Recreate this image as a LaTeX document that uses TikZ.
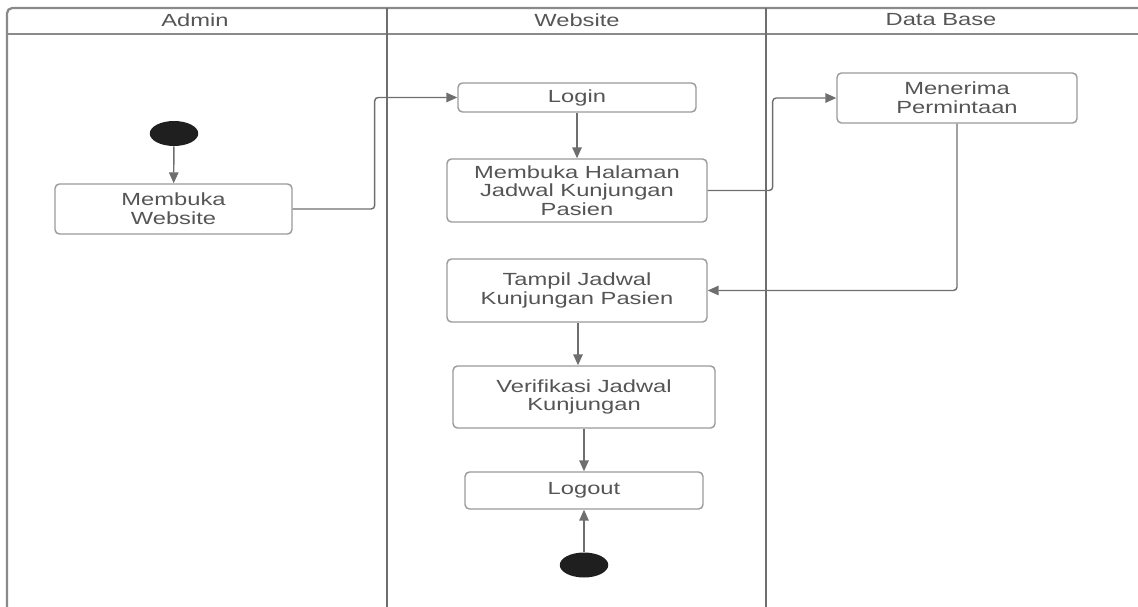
\documentclass[tikz,border=0pt]{standalone}
\usepackage{fontspec}
\setmainfont[FakeStretch=1.35]{Liberation Sans}
\usetikzlibrary{arrows.meta,positioning,shapes.geometric}
\definecolor{txtgray}{HTML}{555555}
\definecolor{linegray}{HTML}{6E6E6E}
\definecolor{boxgray}{HTML}{9A9A9A}
\definecolor{lanegray}{HTML}{8A8A8A}
\begin{document}
\begin{tikzpicture}[x=0.02cm,y=-0.02cm,
  act/.style={draw=boxgray,line width=0.8pt,rounded corners=2.5pt,fill=white,align=center,
    text=txtgray,font=\fontsize{10}{10.6}\selectfont,inner sep=0pt},
  lanehead/.style={text=txtgray,font=\fontsize{10}{10}\selectfont},
  dot/.style={ellipse,fill=black!88,draw=none,minimum width=0.97cm,minimum height=0.5cm,inner sep=0pt},
  flow/.style={draw=linegray,line width=0.8pt,rounded corners=2pt,-{Triangle[length=2.2mm,width=1.9mm]}}]
  \useasboundingbox (0,0) rectangle (1138,607);
  \clip (0,0) rectangle (1138,607);
  \draw[lanegray,line width=1.3pt,rounded corners=3pt] (7,640) -- (7,8) -- (1160,8);
  \draw[lanegray,line width=1.3pt] (7,34) -- (1160,34);
  \draw[linegray,line width=1.3pt] (387,8) -- (387,640);
  \draw[linegray,line width=1.3pt] (766,8) -- (766,640);
  \node[lanehead] (hadmin) at (195,20) {Admin};
  \node[lanehead] (hweb) at (577,20) {Website};
  \node[lanehead] (hdb) at (941,20) {Data Base};
  \node[dot] (start) at (174,133.5) {};
  \node[act,minimum width=4.74cm,minimum height=1.0cm] (buka) at (173.5,209) {Membuka\\Website};
  \node[act,minimum width=4.76cm,minimum height=0.58cm] (login) at (577,97.5) {Login};
  \node[act,minimum width=5.2cm,minimum height=1.26cm] (halaman) at (577,190.5) {Membuka Halaman\\Jadwal Kunjungan\\Pasien};
  \node[act,minimum width=4.8cm,minimum height=1.0cm] (terima) at (957,98) {Menerima\\Permintaan};
  \node[act,minimum width=5.2cm,minimum height=1.26cm] (tampil) at (577,290.5) {Tampil Jadwal\\Kunjungan Pasien};
  \node[act,minimum width=5.24cm,minimum height=1.24cm] (verif) at (584,397) {Verifikasi Jadwal\\Kunjungan};
  \node[act,minimum width=4.76cm,minimum height=0.74cm] (logout) at (584,490.5) {Logout};
  \node[dot] (stop) at (584,565) {};
  \draw[flow] (start) -- (buka);
  \draw[flow] (buka.east) -- ++(82,0) |- (login.west);
  \draw[flow] (login) -- (halaman);
  \draw[flow] (halaman.east) -- ++(65,0) |- (terima.west);
  \draw[flow] (terima.south) |- (tampil.east);
  \draw[flow] ([xshift=0.02cm]tampil.south) -- ([xshift=0.02cm]tampil.south |- verif.north);
  \draw[flow] (verif) -- (logout);
  \draw[flow] (stop) -- (logout);
\end{tikzpicture}
\end{document}
